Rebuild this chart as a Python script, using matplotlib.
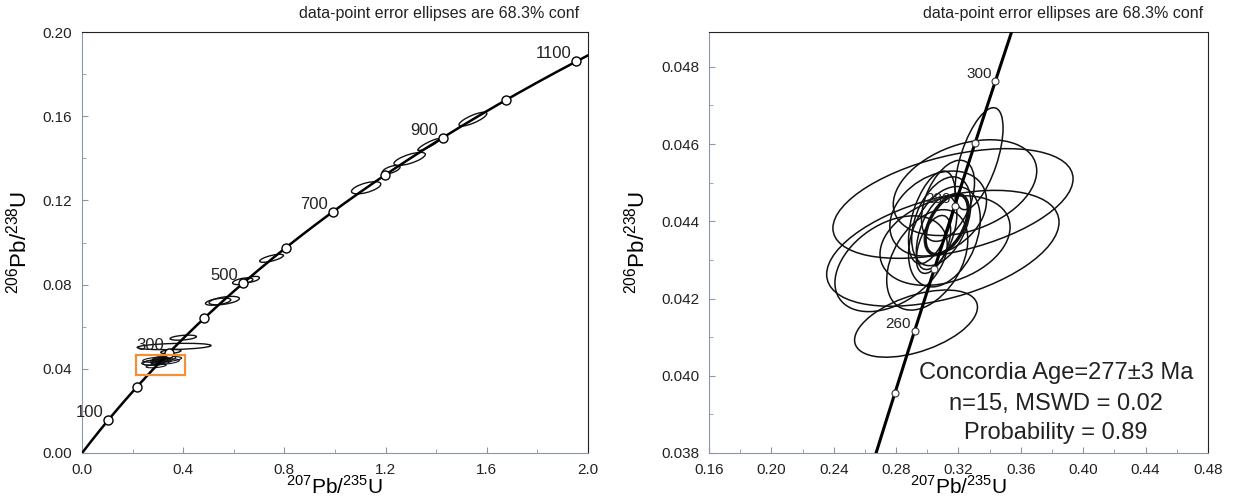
import numpy as np
import matplotlib
matplotlib.use("Agg")
import matplotlib.pyplot as plt
from matplotlib.patches import Circle, Rectangle
from matplotlib.transforms import Affine2D

plt.rcParams['font.family'] = ['Liberation Sans', 'DejaVu Sans']
plt.rcParams['mathtext.fontset'] = 'custom'
plt.rcParams['mathtext.rm'] = 'Liberation Sans'

# decay constants (per year) for the concordia curve
lam238 = 1.55125e-10
lam235 = 9.8485e-10

# age marks on the concordia (Ma)
ages_left = [100, 200, 300, 400, 500, 600, 700, 800, 900, 1000, 1100]
labels_left = [100, 300, 500, 700, 900, 1100]
ages_right = [250, 260, 270, 280, 290, 300]
labels_right = [260, 280, 300]

# zircon spot ellipses: centre, half-width in x and y, correlation
clu_x = [0.2928, 0.3165, 0.3100, 0.3242, 0.3332, 0.3114, 0.2768,
         0.3060, 0.3090, 0.3040, 0.3110, 0.3030, 0.3000, 0.3133, 0.3070]
clu_y = [0.04135, 0.04446, 0.04330, 0.04487, 0.04562, 0.04350, 0.04290,
         0.04370, 0.04400, 0.04340, 0.04360, 0.04410, 0.04300, 0.04453, 0.04420]
clu_sx = [0.0394, 0.0770, 0.0745, 0.0460, 0.0154, 0.0417, 0.0360,
          0.0130, 0.0190, 0.0110, 0.0230, 0.0150, 0.0260, 0.0170, 0.0310]
clu_sy = [0.00087, 0.00142, 0.00150, 0.00124, 0.00132, 0.00116, 0.00124,
          0.00095, 0.00115, 0.00075, 0.00130, 0.00120, 0.00130, 0.00105, 0.00110]
clu_rho = [0.49, 0.45, 0.45, 0.35, 0.60, 0.30, 0.40,
           0.50, 0.40, 0.50, 0.35, 0.50, 0.40, 0.45, 0.30]

# older grains only shown on the full diagram
old_x = [0.749, 1.545, 1.295, 1.370, 1.222, 1.123, 0.635, 0.671, 0.562, 0.538, 0.400, 0.364, 0.351]
old_y = [0.0925, 0.1586, 0.1397, 0.1465, 0.1346, 0.1260, 0.0816, 0.0825, 0.0724, 0.0719, 0.0548, 0.0506, 0.0482]
old_sx = [0.047, 0.055, 0.062, 0.043, 0.035, 0.058, 0.040, 0.030, 0.060, 0.050, 0.052, 0.146, 0.040]
old_sy = [0.0019, 0.0033, 0.0031, 0.0028, 0.0020, 0.0029, 0.0016, 0.0014, 0.0020, 0.0017, 0.0012, 0.0015, 0.0010]
old_rho = [0.7, 0.8, 0.7, 0.9, 0.6, 0.6, 0.5, 0.5, 0.5, 0.5, 0.4, 0.3, 0.4]

# concordia age ellipse
age_x, age_y, age_sx, age_sy, age_rho = 0.3125, 0.04392, 0.0138, 0.00078, 0.5


def concordia(t_ma):
    t = np.asarray(t_ma) * 1e6
    return np.exp(lam235 * t) - 1, np.exp(lam238 * t) - 1


def ellipse(ax, cx, cy, sx, sy, rho, lw=1.0):
    m = np.array([[sx, 0, cx], [sy * rho, sy * np.sqrt(1 - rho ** 2), cy], [0, 0, 1]])
    c = Circle((0, 0), 1, fill=False, ec='#111111', lw=lw,
               transform=Affine2D(m) + ax.transData)
    ax.add_patch(c)


def style(ax):
    for s in ['left', 'bottom']:
        ax.spines[s].set_color('#8d96a8')
    for s in ['top', 'right']:
        ax.spines[s].set_color('#222222')
    ax.tick_params(which='both', direction='in', color='#8d96a8',
                   labelsize=11, pad=7, labelcolor='#222222')
    ax.tick_params(which='major', length=4)
    ax.tick_params(which='minor', length=3)
    ax.set_xlabel(r'$^{207}$Pb/$^{235}$U', fontsize=15, labelpad=-1)
    ax.set_ylabel(r'$^{206}$Pb/$^{238}$U', fontsize=16, labelpad=8)


fig = plt.figure(figsize=(12.34, 5.0), dpi=100)
ax1 = fig.add_axes([0.0665, 0.094, 0.410, 0.842])
ax2 = fig.add_axes([0.5745, 0.094, 0.4044, 0.842])

# ---- left: full concordia
tt = np.linspace(0, 1250, 600)
cx_, cy_ = concordia(tt)
ax1.plot(cx_, cy_, color='black', lw=1.8, zorder=3)
mx, my = concordia(ages_left)
ax1.plot(mx, my, 'o', ms=6.5, mfc='white', mec='black', mew=1.0, zorder=4)
for a in labels_left:
    px, py = concordia(a)
    ax1.annotate(str(a), (px, py), xytext=(-5, 0), textcoords='offset pixels',
                 ha='right', va='bottom', fontsize=12, color='#222222')

for i in range(len(old_x)):
    ellipse(ax1, old_x[i], old_y[i], old_sx[i], old_sy[i], old_rho[i])
for i in range(len(clu_x)):
    ellipse(ax1, clu_x[i], clu_y[i], clu_sx[i], clu_sy[i], clu_rho[i], lw=0.8)

ax1.add_patch(Rectangle((0.215, 0.037), 0.192, 0.0097, fill=False, ec='#f0913a', lw=1.6, zorder=5))

ax1.set_xlim(0, 2.0)
ax1.set_ylim(0, 0.20)
ax1.set_xticks(np.arange(0, 2.01, 0.4))
ax1.set_xticks(np.arange(0, 2.01, 0.2), minor=True)
ax1.set_yticks(np.arange(0, 0.201, 0.04))
ax1.set_yticks(np.arange(0, 0.201, 0.02), minor=True)
ax1.set_xticklabels(['%.1f' % v for v in np.arange(0, 2.01, 0.4)])
ax1.set_yticklabels(['%.2f' % v for v in np.arange(0, 0.201, 0.04)])
style(ax1)
ax1.text(0.982, 1.026, 'data-point error ellipses are 68.3% conf', transform=ax1.transAxes,
         ha='right', va='bottom', fontsize=11.5, color='#222222')

# ---- right: zoom on the Permian cluster
tt2 = np.linspace(220, 330, 300)
cx2, cy2 = concordia(tt2)
ax2.plot(cx2, cy2, color='black', lw=2.2, zorder=3)
for i in range(len(clu_x)):
    ellipse(ax2, clu_x[i], clu_y[i], clu_sx[i], clu_sy[i], clu_rho[i], lw=1.1)
ellipse(ax2, age_x, age_y, age_sx, age_sy, age_rho, lw=2.4)
mx2, my2 = concordia(ages_right)
ax2.plot(mx2, my2, 'o', ms=5, mfc='white', mec='#333333', mew=0.8, zorder=4)
for a in labels_right:
    px, py = concordia(a)
    ax2.annotate(str(a), (px, py), xytext=(-4, 0), textcoords='offset pixels',
                 ha='right', va='bottom', fontsize=11, color='#222222')

ax2.set_xlim(0.16, 0.48)
ax2.set_ylim(0.038, 0.0489)
xt = np.arange(0.16, 0.481, 0.04)
yt = np.arange(0.038, 0.0485, 0.002)
ax2.set_xticks(xt)
ax2.set_xticks(np.arange(0.16, 0.481, 0.02), minor=True)
ax2.set_yticks(yt)
ax2.set_yticks(np.arange(0.038, 0.0489, 0.001), minor=True)
ax2.set_xticklabels(['%.2f' % v for v in xt])
ax2.set_yticklabels(['%.3f' % v for v in yt])
style(ax2)
ax2.text(0.99, 1.026, 'data-point error ellipses are 68.3% conf', transform=ax2.transAxes,
         ha='right', va='bottom', fontsize=11.5, color='#222222')

for txt, yy in [('Concordia Age=277\u00b13 Ma', 0.19), ('n=15, MSWD = 0.02', 0.116),
                ('Probability = 0.89', 0.048)]:
    ax2.text(0.695, yy, txt, transform=ax2.transAxes, ha='center', va='center',
             fontsize=17, color='#222222')

fig.savefig('out.png', dpi=100, facecolor='white')
